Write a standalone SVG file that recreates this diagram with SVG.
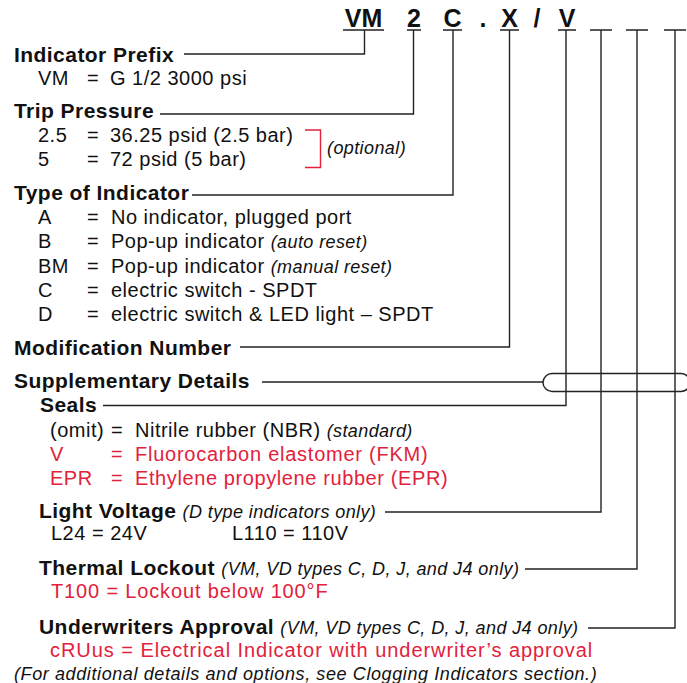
<svg xmlns="http://www.w3.org/2000/svg" width="687" height="683" viewBox="0 0 687 683">
<style>
text{font-family:"Liberation Sans",Arial,sans-serif;fill:#111}
.h{font-size:21px;font-weight:bold;letter-spacing:0.45px}
.r{font-size:20px;letter-spacing:0.5px}
.i{font-size:18px;font-style:italic;font-weight:normal;letter-spacing:0.4px}
.red{fill:#e3213b}
.code{font-size:25px;font-weight:bold;text-anchor:middle}
.ln{fill:none;stroke:#222;stroke-width:1.4}
</style>
<rect width="687" height="683" fill="#fff"/>
<g id="code">
<text class="code" x="363.5" y="27">VM</text>
<text class="code" x="414" y="27">2</text>
<text class="code" x="452.5" y="27">C</text>
<text class="code" x="483" y="27">.</text>
<text class="code" x="509.5" y="27">X</text>
<text class="code" x="537" y="27">/</text>
<text class="code" x="567" y="27">V</text>
<path class="ln" d="M343 30H384M407 30H421M443 30H462M500 30H519M558 30H576M590 30H612M626 30H648M664 30H686"/>
</g>
<g id="connectors">
<path class="ln" d="M184 54H364.5V30"/>
<path class="ln" d="M160 114H413.5V30"/>
<path class="ln" d="M192 195H453V30"/>
<path class="ln" d="M240 347H509.5V30"/>
<path class="ln" d="M262 382H543"/>
<path class="ln" d="M103 405.5H566V30"/>
<path class="ln" d="M385 512H601V30"/>
<path class="ln" d="M525 569H637V30"/>
<path class="ln" d="M588 628H675V30"/>
<path class="ln" d="M552 373.5H681A9 9 0 0 1 681 391.5H552A9 9 0 0 1 552 373.5Z"/>
<path fill="none" stroke="#e3213b" stroke-width="1.4" d="M305 130H320.5V167.5H305"/>
</g>
<g id="indicator-prefix">
<text class="h" x="14" y="62">Indicator Prefix</text>
<text class="r" x="38" y="85">VM</text><text class="r" x="87" y="85">=</text><text class="r" x="110" y="85">G 1/2 3000 psi</text>
</g>
<g id="trip-pressure">
<text class="h" x="14" y="118">Trip Pressure</text>
<text class="r" x="38" y="142">2.5</text><text class="r" x="87" y="142">=</text><text class="r" x="110" y="142">36.25 psid (2.5 bar)</text>
<text class="r" x="38" y="166">5</text><text class="r" x="87" y="166">=</text><text class="r" x="110" y="166">72 psid (5 bar)</text>
<text class="i" x="327" y="154">(optional)</text>
</g>
<g id="type-of-indicator">
<text class="h" x="14" y="200">Type of Indicator</text>
<text class="r" x="38" y="224">A</text><text class="r" x="87" y="224">=</text><text class="r" x="111" y="224">No indicator, plugged port</text>
<text class="r" x="38" y="248">B</text><text class="r" x="87" y="248">=</text><text class="r" x="111" y="248">Pop-up indicator <tspan class="i" font-size="16">(auto reset)</tspan></text>
<text class="r" x="38" y="273">BM</text><text class="r" x="87" y="273">=</text><text class="r" x="111" y="273">Pop-up indicator <tspan class="i" font-size="16">(manual reset)</tspan></text>
<text class="r" x="38" y="297">C</text><text class="r" x="87" y="297">=</text><text class="r" x="111" y="297">electric switch - SPDT</text>
<text class="r" x="38" y="321">D</text><text class="r" x="87" y="321">=</text><text class="r" x="111" y="321">electric switch &amp; LED light – SPDT</text>
</g>
<g id="modification-number">
<text class="h" x="14" y="355">Modification Number</text>
</g>
<g id="supplementary-details">
<text class="h" x="14" y="388">Supplementary Details</text>
</g>
<g id="seals">
<text class="h" x="40" y="412">Seals</text>
<text class="r" x="50" y="437">(omit)</text><text class="r" x="111" y="437">=</text><text class="r" x="135" y="437">Nitrile rubber (NBR) <tspan class="i" font-size="16">(standard)</tspan></text>
<text class="r red" x="50" y="461">V</text><text class="r red" x="111" y="461">=</text><text class="r red" x="135" y="461" style="letter-spacing:0.75px">Fluorocarbon elastomer (FKM)</text>
<text class="r red" x="50" y="485">EPR</text><text class="r red" x="111" y="485">=</text><text class="r red" x="135" y="485" style="letter-spacing:0.6px">Ethylene propylene rubber (EPR)</text>
</g>
<g id="light-voltage">
<text class="h" x="39" y="518">Light Voltage <tspan class="i">(D type indicators only)</tspan></text>
<text class="r" x="51" y="540">L24 = 24V</text>
<text class="r" x="232" y="540">L110 = 110V</text>
</g>
<g id="thermal-lockout">
<text class="h" x="39" y="575">Thermal Lockout <tspan class="i">(VM, VD types C, D, J, and J4 only)</tspan></text>
<text class="r red" x="51" y="598" style="letter-spacing:0.85px">T100 = Lockout below 100°F</text>
</g>
<g id="underwriters-approval">
<text class="h" x="39" y="634">Underwriters Approval <tspan class="i">(VM, VD types C, D, J, and J4 only)</tspan></text>
<text class="r red" x="50" y="657" style="letter-spacing:0.95px">cRUus = Electrical Indicator with underwriter’s approval</text>
</g>
<g id="footnote">
<text class="i" x="14" y="680" style="letter-spacing:0.6px">(For additional details and options, see Clogging Indicators section.)</text>
</g>
</svg>
